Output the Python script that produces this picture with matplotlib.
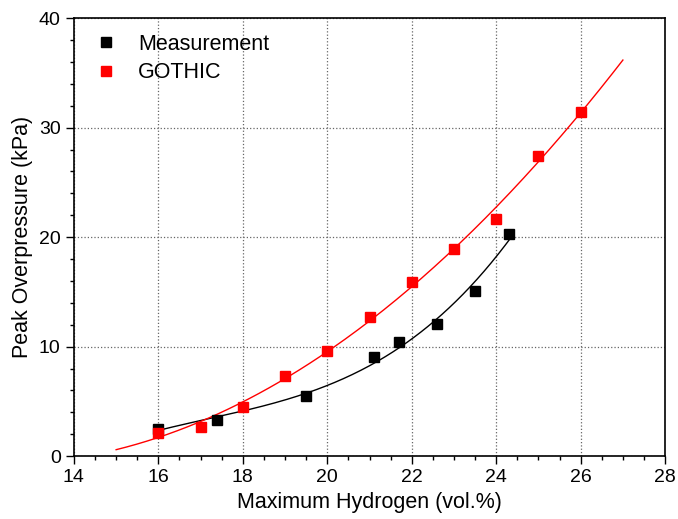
import numpy as np
import matplotlib.pyplot as plt
from matplotlib.ticker import MultipleLocator

plt.rcParams['font.family'] = ['Liberation Sans', 'DejaVu Sans']

meas_x = [16.0, 17.4, 19.5, 21.1, 21.7, 22.6, 23.5, 24.3]
meas_y = [2.5, 3.35, 5.5, 9.05, 10.4, 12.1, 15.1, 20.3]
gothic_x = [16, 17, 18, 19, 20, 21, 22, 23, 24, 25, 26]
gothic_y = [2.15, 2.7, 4.5, 7.3, 9.6, 12.7, 15.9, 18.9, 21.7, 27.4, 31.4]

fig = plt.figure(figsize=(6.78, 5.19), dpi=100)
ax = fig.add_axes([0.109, 0.121, 0.872, 0.844])

# fitted curves
cm = np.polyfit(meas_x, meas_y, 3)
xm = np.linspace(16, 24.3, 200)
ax.plot(xm, np.polyval(cm, xm), color='black', lw=1.0, zorder=2)

cg = np.polyfit(gothic_x, gothic_y, 2)
xg = np.linspace(15, 27, 200)
ax.plot(xg, np.polyval(cg, xg), color='red', lw=1.0, zorder=2)

ax.plot(meas_x, meas_y, 's', color='black', ms=7, label='Measurement', zorder=3)
ax.plot(gothic_x, gothic_y, 's', color='red', ms=7, label='GOTHIC', zorder=3)

ax.set_xlim(14, 28)
ax.set_ylim(0, 40)
ax.xaxis.set_major_locator(MultipleLocator(2))
ax.xaxis.set_minor_locator(MultipleLocator(0.5))
ax.yaxis.set_major_locator(MultipleLocator(10))
ax.yaxis.set_minor_locator(MultipleLocator(2))
ax.tick_params(which='major', length=6, width=1, labelsize=14, direction='out')
ax.tick_params(which='minor', length=3, width=1, direction='out')
ax.grid(True, which='major', linestyle=':', color='#666666', lw=0.9)
for s in ax.spines.values():
    s.set_linewidth(1.2)

ax.set_xlabel('Maximum Hydrogen (vol.%)', fontsize=15.5, labelpad=4)
ax.set_ylabel('Peak Overpressure (kPa)', fontsize=15.5, labelpad=4)
ax.legend(loc='upper left', frameon=False, fontsize=15.5, handletextpad=0.5,
          bbox_to_anchor=(0.003, 0.984), borderaxespad=0, labelspacing=0.35)

fig.savefig('out.png', dpi=100)
